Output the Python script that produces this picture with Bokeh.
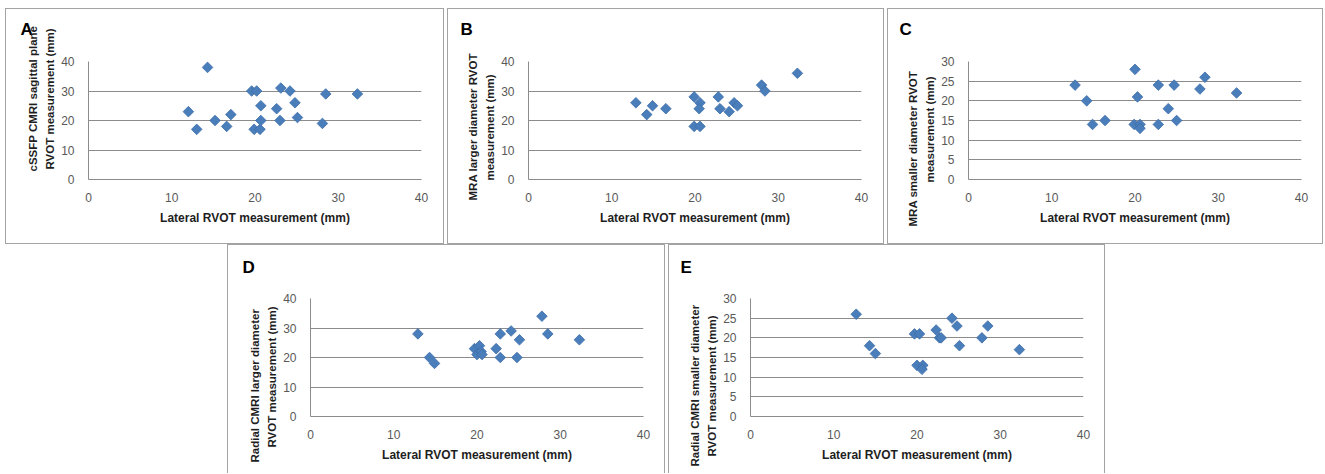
import numpy as np
from bokeh.plotting import figure
from bokeh.layouts import row, column, Spacer
from bokeh.models import Range1d, SingleIntervalTicker, Title
from bokeh.embed import file_html
from bokeh.resources import INLINE

# ---------------- data ----------------
x_title = "Lateral RVOT measurement (mm)"

# Panel A: cSSFP CMRI sagittal plane
a_x = [14.3, 12.0, 13.0, 15.2, 17.1, 16.6, 19.6, 20.2, 19.9, 20.6, 20.7,
       20.7, 22.6, 23.0, 23.1, 24.2, 24.8, 25.1, 28.1, 28.5, 32.3]
a_y = [38, 23, 17, 20, 22, 18, 30, 30, 17, 17, 25,
       20, 24, 20, 31, 30, 26, 21, 19, 29, 29]

# Panel B: MRA larger diameter
b_x = [12.9, 14.2, 14.9, 16.5, 19.9, 19.9, 20.6, 20.6, 20.5, 22.8, 23.0,
       24.1, 24.7, 25.1, 28.0, 28.4, 32.3]
b_y = [26, 22, 25, 24, 28, 18, 18, 26, 24, 28, 24,
       23, 26, 25, 32, 30, 36]

# Panel C: MRA smaller diameter
c_x = [12.8, 14.2, 14.9, 16.4, 20.0, 19.9, 20.3, 20.6, 20.6, 22.8, 22.8,
       24.0, 24.7, 25.0, 27.8, 28.4, 32.2]
c_y = [24, 20, 14, 15, 28, 14, 21, 14, 13, 24, 14,
       18, 24, 15, 23, 26, 22]

# Panel D: Radial CMRI larger diameter
d_x = [12.9, 14.3, 14.9, 19.7, 20.0, 20.3, 20.5, 20.6, 22.3, 22.8, 22.8,
       24.1, 24.8, 25.1, 27.8, 28.5, 32.3]
d_y = [28, 20, 18, 23, 21, 24, 22, 21, 23, 28, 20,
       29, 20, 26, 34, 28, 26]

# Panel E: Radial CMRI smaller diameter
e_x = [12.7, 14.3, 15.0, 19.7, 20.3, 20.0, 20.7, 20.6, 22.3, 22.7, 22.9,
       24.2, 24.8, 25.1, 27.8, 28.5, 32.3]
e_y = [26, 18, 16, 21, 21, 13, 13, 12, 22, 20, 20,
       25, 23, 18, 20, 23, 17]

panels = [
    dict(letter="A", x=a_x, y=a_y, ymax=40, ystep=10,
         ytitle=["cSSFP CMRI sagittal plane", "RVOT measurement (mm)"]),
    dict(letter="B", x=b_x, y=b_y, ymax=40, ystep=10,
         ytitle=["MRA larger diameter RVOT", "measurement (mm)"]),
    dict(letter="C", x=c_x, y=c_y, ymax=30, ystep=5,
         ytitle=["MRA smaller diameter RVOT", "measurement (mm)"]),
    dict(letter="D", x=d_x, y=d_y, ymax=40, ystep=10,
         ytitle=["Radial CMRI larger diameter", "RVOT measurement (mm)"]),
    dict(letter="E", x=e_x, y=e_y, ymax=30, ystep=5,
         ytitle=["Radial CMRI smaller diameter", "RVOT measurement (mm)"]),
]

# layout / style (pixels)
# o1/o2: start of y-title lines measured up from the frame bottom
# lo: letter offset from frame left, sp: spacer standoff under the letter
layout_px = {
    "A": dict(w=439, h=236, l=83, r=23, t=53, b=65, o1=8, o2=10, lo=-68, sp=10),
    "B": dict(w=437, h=236, l=81, r=23, t=53, b=65, o1=-21, o2=-1, lo=-68, sp=10),
    "C": dict(w=436, h=236, l=81, r=22, t=53, b=65, o1=-47, o2=-3, lo=-69, sp=10),
    "D": dict(w=438, h=229, l=83, r=22, t=54, b=57, o1=-46, o2=-31, lo=-68, sp=9),
    "E": dict(w=437, h=229, l=82, r=22, t=54, b=57, o1=-50, o2=-40, lo=-70, sp=9),
}

GRID = "#8c8c8c"
TICK = "#595959"
TITLE = "#1e1e1e"
FONT = "Liberation Sans"
BORDER_ALL = "inset 0 0 0 1px #a3a3a3"
BORDER_NOBOTTOM = "inset 1px 1px 0 0 #a3a3a3, inset -1px 0 0 0 #a3a3a3"


def make_panel(spec):
    g = layout_px[spec["letter"]]
    bottom_row = spec["letter"] in ("D", "E")
    p = figure(width=g["w"], height=g["h"], output_backend="svg",
               toolbar_location=None, title=None,
               x_range=Range1d(0, 40), y_range=Range1d(0, spec["ymax"]),
               min_border_left=g["l"], min_border_right=g["r"],
               min_border_top=g["t"], min_border_bottom=g["b"],
               border_fill_color=None, background_fill_color=None,
               outline_line_color=None,
               styles={"box-shadow": BORDER_NOBOTTOM if bottom_row else BORDER_ALL})

    # spacer under the panel letter, then the letter itself (further out)
    p.add_layout(Title(text=" ", standoff=g["sp"], text_font=FONT,
                       text_font_size="10px"), "above")
    p.add_layout(Title(text=spec["letter"], align="left", offset=g["lo"],
                       standoff=0, text_font=FONT, text_font_size="17px",
                       text_font_style="bold", text_color="#000000"), "above")

    p.xaxis.ticker = SingleIntervalTicker(interval=10)
    p.yaxis.ticker = SingleIntervalTicker(interval=spec["ystep"])
    p.xgrid.visible = False
    p.ygrid.grid_line_color = GRID
    p.ygrid.grid_line_width = 1
    for ax in (p.xaxis[0], p.yaxis[0]):
        ax.axis_line_color = GRID
        ax.major_tick_in = 0
        ax.major_tick_out = 0
        ax.minor_tick_in = 0
        ax.minor_tick_out = 0
        ax.major_label_text_font = FONT
        ax.major_label_text_font_size = "12px"
        ax.major_label_text_color = TICK
    p.yaxis.major_label_standoff = 14
    p.xaxis.major_label_standoff = 13
    p.xaxis.axis_label = x_title
    p.xaxis.axis_label_text_font = FONT
    p.xaxis.axis_label_text_font_size = "12px"
    p.xaxis.axis_label_text_font_style = "bold"
    p.xaxis.axis_label_text_color = TITLE
    p.xaxis.axis_label_standoff = 6

    # y-axis title, two lines (inner line added first)
    line1, line2 = spec["ytitle"]
    p.add_layout(Title(text=line2, align="left", offset=g["o2"], standoff=6,
                       text_font=FONT, text_font_size="11.5px",
                       text_font_style="bold", text_color=TITLE), "left")
    p.add_layout(Title(text=line1, align="left", offset=g["o1"], standoff=0,
                       text_font=FONT, text_font_size="11.5px",
                       text_font_style="bold", text_color=TITLE), "left")

    p.scatter(spec["x"], spec["y"], marker="square", angle=np.pi / 4, size=7.5,
              fill_color="#4a7ebb", line_color="#3e6da8", line_width=0.8)
    return p


figs = {s["letter"]: make_panel(s) for s in panels}

top = row(Spacer(width=5, height=1), figs["A"], Spacer(width=3, height=1),
          figs["B"], Spacer(width=3, height=1), figs["C"])
bottom = row(Spacer(width=227, height=1), figs["D"], Spacer(width=3, height=1),
             figs["E"])
page = column(Spacer(width=1, height=8), top, bottom)

open("out.html", "w").write(file_html(page, INLINE))
